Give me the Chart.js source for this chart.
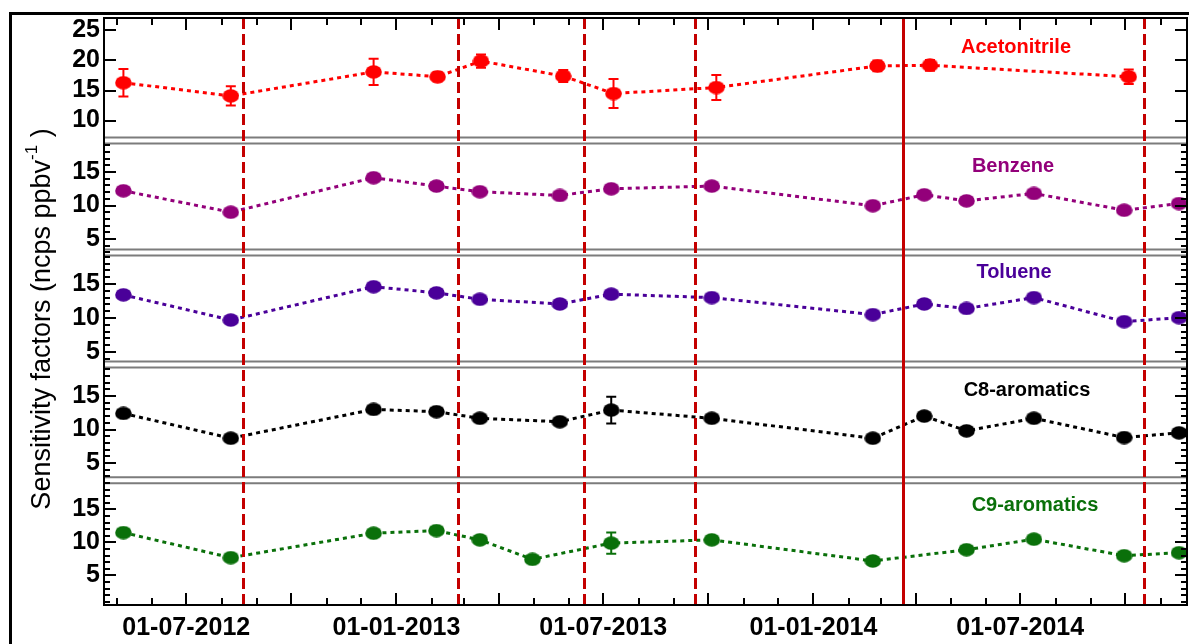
<!DOCTYPE html>
<html>
<head>
<meta charset="utf-8">
<title>Sensitivity factors</title>
<script src="https://cdn.jsdelivr.net/npm/chart.js@4.4.1/dist/chart.umd.min.js"></script>
<style>
  html, body { margin: 0; padding: 0; background: #fff; }
  #wrap { position: relative; width: 1189px; height: 644px; }
</style>
</head>
<body>
<div id="wrap"><canvas id="c" width="1189" height="644"></canvas></div>
<script>
// ---- data -------------------------------------------------------------
const acnDates = ['2012-05-07','2012-08-09','2012-12-12','2013-02-06','2013-03-16','2013-05-27',
                  '2013-07-10','2013-10-08','2014-02-26','2014-04-13','2014-10-04'];
const acetonitrile    = [16.3, 14.1, 18.1, 17.3, 19.9, 17.4, 14.5, 15.5, 19.1, 19.2, 17.3];
const acetonitrileErr = [2.3, 1.6, 2.2, 0.8, 1.1, 1.0, 2.4, 2.1, 0.9, 0.9, 1.2];

const aroDates = ['2012-05-07','2012-08-09','2012-12-12','2013-02-05','2013-03-15','2013-05-24','2013-07-08',
                  '2013-10-04','2014-02-22','2014-04-08','2014-05-15','2014-07-13','2014-09-30','2014-11-17'];
const benzene     = [12.2, 9.0, 14.15, 12.9, 12.06, 11.5, 12.5, 12.9, 9.97, 11.6, 10.7, 11.8, 9.3, 10.3];
const toluene     = [13.4, 9.7, 14.6, 13.7, 12.75, 12.06, 13.5, 13.0, 10.5, 12.06, 11.4, 13.0, 9.46, 10.05];
const c8Aromatics = [12.4, 8.7, 13.0, 12.66, 11.67, 11.16, 12.9, 11.67, 8.7, 12.0, 9.8, 11.67, 8.8, 9.5];
const c8Err       = [0, 0, 0, 0, 0, 0, 2.0, 0, 0, 0, 0, 0, 0, 0];

const c9Dates = ['2012-05-07','2012-08-09','2012-12-12','2013-02-05','2013-03-15','2013-04-30','2013-07-08',
                 '2013-10-04','2014-02-22','2014-05-15','2014-07-13','2014-09-30','2014-11-17'];
const c9Aromatics = [11.5, 7.7, 11.4, 11.8, 10.4, 7.45, 9.9, 10.4, 7.2, 8.9, 10.5, 8.0, 8.45];
const c9Err       = [0, 0, 0, 0, 0, 0, 1.6, 0, 0, 0, 0, 0, 0];

// instrument events (vertical markers); the solid one is a major change
const eventDates = ['2012-08-20','2013-02-24','2013-06-14','2013-09-19','2014-03-20','2014-10-17'];
const eventSolid = [false, false, false, false, true, false];

// axis ticks
const acnTicks = [10, 15, 20, 25];
const aroTicks = [5, 10, 15];
const xTickLabels = ['01-07-2012','01-01-2013','01-07-2013','01-01-2014','01-07-2014'];
const xStart = '2012-04-20', xEnd = '2014-11-24';

// ---- helpers ----------------------------------------------------------
const ms = s => Date.parse(s + 'T00:00:00Z');
const fmtDate = v => {
  const d = new Date(v);
  const p = n => String(n).padStart(2, '0');
  return p(d.getUTCDate()) + '-' + p(d.getUTCMonth() + 1) + '-' + d.getUTCFullYear();
};
const monthStarts = (() => {
  const out = [];
  const a = new Date(ms(xStart)), b = ms(xEnd);
  let y = a.getUTCFullYear(), m = a.getUTCMonth() + 1;
  for (;;) {
    if (m > 11) { m = 0; y++; }
    const t = Date.UTC(y, m, 1);
    if (t > b) break;
    out.push(t); m++;
  }
  return out;
})();

// slightly wide oval marker
const oval = color => {
  const c = document.createElement('canvas');
  c.width = 17; c.height = 14;
  const g = c.getContext('2d');
  g.fillStyle = color;
  g.beginPath();
  g.ellipse(8.5, 7, 8.3, 6.8, 0, 0, Math.PI * 2);
  g.fill();
  return c;
};

const SANS = '"Liberation Sans", Arial, sans-serif';
const TICKFONT = { family: SANS, size: 25, weight: 'bold' };

const panels = [
  { axis: 'yA', name: 'Acetonitrile', color: '#ff0000', min: 6.67, max: 27.08, weight: 122.5, ticks: acnTicks, minor: false, lx: 1016, ly: 47 },
  { axis: 'yB', name: 'Benzene',      color: '#93007a', min: 2.99, max: 19.70, weight: 112,   ticks: aroTicks, minor: true,  lx: 1013, ly: 166 },
  { axis: 'yC', name: 'Toluene',      color: '#4a0099', min: 3.16, max: 19.63, weight: 112,   ticks: aroTicks, minor: true,  lx: 1014, ly: 272 },
  { axis: 'yD', name: 'C8-aromatics', color: '#000000', min: 2.42, max: 19.70, weight: 115.8, ticks: aroTicks, minor: true,  lx: 1027, ly: 390 },
  { axis: 'yE', name: 'C9-aromatics', color: '#0a700a', min: 0.53, max: 19.42, weight: 124.7, ticks: aroTicks, minor: true,  lx: 1035, ly: 505 }
];

const series = [
  { dates: acnDates, values: acetonitrile, errors: acetonitrileErr },
  { dates: aroDates, values: benzene,      errors: null },
  { dates: aroDates, values: toluene,      errors: null },
  { dates: aroDates, values: c8Aromatics,  errors: c8Err },
  { dates: c9Dates,  values: c9Aromatics,  errors: c9Err }
];

const datasets = panels.map((p, k) => ({
  label: p.name,
  yAxisID: p.axis,
  data: series[k].dates.map((d, i) => ({ x: ms(d), y: series[k].values[i] })),
  errors: series[k].errors,
  borderColor: p.color,
  backgroundColor: p.color,
  borderWidth: 3,
  borderDash: [4, 4],
  pointStyle: oval(p.color),
  pointRadius: 7,
  pointHoverRadius: 7,
  tension: 0
}));

const scales = {
  x: {
    type: 'linear',
    position: 'bottom',
    min: ms(xStart),
    max: ms(xEnd),
    afterBuildTicks: s => { s.ticks = monthStarts.map(v => ({ value: v })); },
    afterFit: s => { s.height = 39; s.paddingLeft = 0; s.paddingRight = 0; },
    grid: { display: false, drawTicks: false },
    border: { display: false },
    ticks: {
      autoSkip: false, maxRotation: 0, minRotation: 0, padding: 8,
      color: '#000', font: TICKFONT,
      callback: v => { const t = fmtDate(v); return xTickLabels.includes(t) ? t : ''; }
    }
  }
};
panels.forEach((p, k) => {
  scales[p.axis] = {
    type: 'linear',
    position: 'left',
    stack: 'panels',
    stackWeight: p.weight,
    weight: panels.length - k,
    min: p.min,
    max: p.max,
    afterBuildTicks: s => { s.ticks = p.ticks.map(v => ({ value: v })); },
    afterFit: s => { s.width = 104; s.paddingTop = 0; s.paddingBottom = 0; },
    grid: { display: false, drawTicks: false },
    border: { display: false },
    ticks: { autoSkip: false, padding: 4, color: '#000', font: TICKFONT }
  };
});

// ---- drawing of frames, ticks, error bars and annotations ------------
const decor = {
  id: 'decor',
  beforeDatasetsDraw(chart) {
    const ctx = chart.ctx, xs = chart.scales.x;
    ctx.save();
    ctx.lineWidth = 2;
    chart.data.datasets.forEach(ds => {
      if (!ds.errors) return;
      const ys = chart.scales[ds.yAxisID];
      ctx.strokeStyle = ds.borderColor;
      ds.data.forEach((pt, j) => {
        const e = ds.errors[j];
        if (!e) return;
        const x = xs.getPixelForValue(pt.x);
        const y1 = ys.getPixelForValue(pt.y + e), y2 = ys.getPixelForValue(pt.y - e);
        ctx.beginPath();
        ctx.moveTo(x, y1); ctx.lineTo(x, y2);
        ctx.moveTo(x - 5, y1); ctx.lineTo(x + 5, y1);
        ctx.moveTo(x - 5, y2); ctx.lineTo(x + 5, y2);
        ctx.stroke();
      });
    });
    ctx.restore();
  },
  afterDatasetsDraw(chart) {
    const ctx = chart.ctx, a = chart.chartArea, xs = chart.scales.x;
    ctx.save();
    // panel separators
    ctx.strokeStyle = '#7c7c7c';
    ctx.lineWidth = 2;
    panels.slice(0, -1).forEach(p => {
      const y = chart.scales[p.axis].bottom;
      ctx.beginPath();
      ctx.moveTo(a.left, y - 3); ctx.lineTo(a.right, y - 3);
      ctx.moveTo(a.left, y + 3); ctx.lineTo(a.right, y + 3);
      ctx.stroke();
    });
    // event markers
    ctx.strokeStyle = '#c40000';
    ctx.lineWidth = 3;
    eventDates.forEach((d, i) => {
      const x = Math.round(xs.getPixelForValue(ms(d))) + 0.5;
      ctx.setLineDash(eventSolid[i] ? [] : [11, 5]);
      ctx.beginPath();
      ctx.moveTo(x, a.top); ctx.lineTo(x, a.bottom);
      ctx.stroke();
    });
    ctx.setLineDash([]);
    // axis lines
    ctx.strokeStyle = '#000';
    ctx.lineWidth = 2;
    ctx.strokeRect(a.left, a.top, a.right - a.left, a.bottom - a.top);
    // y ticks, inward on both sides
    panels.forEach(p => {
      const ys = chart.scales[p.axis];
      const marks = p.ticks.map(v => [v, 12]);
      if (p.minor) {
        for (let v = Math.ceil(p.min); v <= p.max; v++) if (!p.ticks.includes(v)) marks.push([v, 6]);
      }
      ctx.beginPath();
      marks.forEach(([v, len]) => {
        const y = Math.round(ys.getPixelForValue(v));
        ctx.moveTo(a.left, y); ctx.lineTo(a.left + len, y);
        ctx.moveTo(a.right, y); ctx.lineTo(a.right - len, y);
      });
      ctx.stroke();
    });
    // x ticks, inward at top and bottom
    ctx.beginPath();
    xs.ticks.forEach(t => {
      const x = Math.round(xs.getPixelForValue(t.value));
      const len = new Date(t.value).getUTCMonth() % 3 === 0 ? 12 : 7;
      ctx.moveTo(x, a.bottom); ctx.lineTo(x, a.bottom - len);
      ctx.moveTo(x, a.top); ctx.lineTo(x, a.top + len);
    });
    ctx.stroke();
    ctx.restore();
  },
  afterDraw(chart) {
    const ctx = chart.ctx;
    ctx.save();
    // species names
    ctx.font = 'bold 20px ' + SANS;
    ctx.textAlign = 'center';
    ctx.textBaseline = 'middle';
    panels.forEach(p => {
      ctx.fillStyle = p.color;
      ctx.fillText(p.name, p.lx, p.ly);
    });
    // y-axis title with superscript
    const main = 'Sensitivity factors (ncps ppbv', sup = '-1', tail = ' )';
    const big = '27px ' + SANS, small = '17px ' + SANS;
    ctx.font = big; const w1 = ctx.measureText(main).width, w3 = ctx.measureText(tail).width;
    ctx.font = small; const w2 = ctx.measureText(sup).width;
    const total = w1 + w2 + w3;
    ctx.translate(43, 319);
    ctx.rotate(-Math.PI / 2);
    ctx.fillStyle = '#000';
    ctx.textAlign = 'left';
    ctx.textBaseline = 'middle';
    let x0 = -total / 2;
    ctx.font = big; ctx.fillText(main, x0, 0); x0 += w1;
    ctx.font = small; ctx.fillText(sup, x0, -11); x0 += w2;
    ctx.font = big; ctx.fillText(tail, x0, 0);
    ctx.restore();
    // outer frame
    ctx.save();
    ctx.strokeStyle = '#000';
    ctx.lineWidth = 3;
    ctx.beginPath();
    ctx.moveTo(10.5, 644); ctx.lineTo(10.5, 13.5); ctx.lineTo(1189, 13.5);
    ctx.stroke();
    ctx.restore();
  }
};

new Chart(document.getElementById('c'), {
  type: 'line',
  data: { datasets },
  options: {
    responsive: false,
    animation: false,
    devicePixelRatio: 1,
    layout: { autoPadding: false, padding: { top: 18, right: 2, left: 0, bottom: 0 } },
    plugins: { legend: { display: false }, tooltip: { enabled: false } },
    scales
  },
  plugins: [decor]
});
</script>
</body>
</html>
